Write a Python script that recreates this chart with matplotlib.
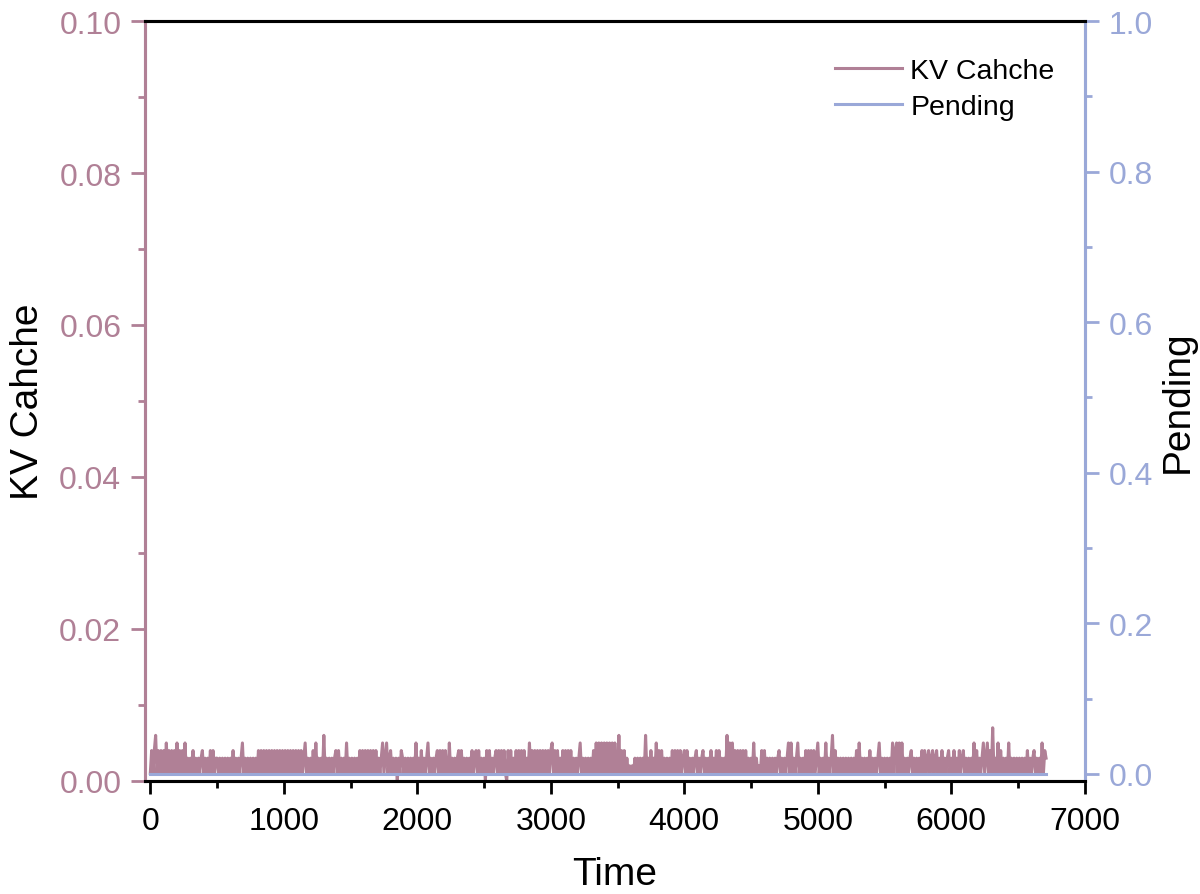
import numpy as np
import matplotlib
matplotlib.use('Agg')
import matplotlib.pyplot as plt
from matplotlib.ticker import MultipleLocator

plt.rcParams['font.family'] = ['Liberation Sans', 'DejaVu Sans']

# KV cache usage, one sample every 10 time units, in units of 0.001
kv_digits = (
    "14146141414151414141514141513131413131341313141413"
    "31313131313" "14" "131313" "5" "13131313131" "4141414141414141414"
    "141414141" "414141" "35" "1313141" "5" "13131" "6" "13131313" "414" "13131" "5" "13"
    "1313131" "4141414141414" "1313" "5" "13" "5" "13" "4" "1313" "0" "31" "4" "3131313131" "5"
    "13141313" "5" "131313" "41414141" "15" "131313" "4141" "313131" "4" "13" "414" "131"
    "30" "414" "1313" "41414141" "0" "4141" "3" "141414141" "31" "51" "41414141414" "141"
    "45" "1414131" "41414141" "31313" "5" "131313131" "41" "5151515151515151"
    "16" "1414" "13" "1212" "131313131" "6" "131" "4" "131" "5" "1414" "1313131" "4141414" "13"
    "414" "131313" "4" "1313" "4" "13131" "4" "13141" "4" "13131" "61" "515" "14141414" "14" "131"
    "315" "13121" "4141" "313131313" "4" "131313" "515" "1313" "5" "13131" "4141414" "13"
    "5" "13131" "5" "1313" "6" "141" "31313131313131" "415" "1313131" "4" "131313" "5" "131"
    "313131" "5" "14" "51515" "131313" "4" "1313131" "41" "4" "13" "4" "13" "4" "13" "4" "13141" "313" "41"
    "31" "4" "131" "4" "13" "4" "1313131" "5" "14" "1313" "5" "13" "5" "141" "7" "131" "5" "14" "13131" "5" "131313"
    "1313131" "4" "1313" "4" "13131" "5" "143"
)
kv_cache = [int(c) / 1000 for c in kv_digits]
time = [10 * i for i in range(len(kv_cache))]
pending = [0 for _ in kv_cache]

KV_COLOR = '#B08096'
PEND_COLOR = '#9AA8D8'

fig = plt.figure(figsize=(12, 8.95), dpi=100)
ax = fig.add_axes([0.1208, 0.1263, 0.7832, 0.8491])
ax2 = ax.twinx()

l1, = ax.plot(time, kv_cache, color=KV_COLOR, lw=2.2, label='KV Cahche')
l2, = ax2.plot(time, pending, color=PEND_COLOR, lw=2.2, label='Pending')

ax.set_xlim(-40, 7000)
ax.set_ylim(0, 0.10)
ax2.set_ylim(-0.0093, 1.0)

ax.xaxis.set_major_locator(MultipleLocator(1000))
ax.xaxis.set_minor_locator(MultipleLocator(500))
ax.yaxis.set_major_locator(MultipleLocator(0.02))
ax.yaxis.set_minor_locator(MultipleLocator(0.01))
ax2.yaxis.set_major_locator(MultipleLocator(0.2))
ax2.yaxis.set_minor_locator(MultipleLocator(0.1))
ax.yaxis.set_major_formatter(plt.FormatStrFormatter('%.2f'))
ax2.yaxis.set_major_formatter(plt.FormatStrFormatter('%.1f'))

ax.tick_params(axis='x', which='major', direction='out', length=9, width=2,
               labelsize=23, colors='black', pad=9, top=False)
ax.tick_params(axis='x', which='minor', direction='out', length=5, width=2, top=False)
ax.tick_params(axis='y', which='major', direction='out', length=10, width=2,
               labelsize=23, colors=KV_COLOR, pad=7)
ax.tick_params(axis='y', which='minor', direction='out', length=5, width=2, colors=KV_COLOR)
ax2.tick_params(axis='y', which='major', direction='out', length=10, width=2,
                labelsize=23, colors=PEND_COLOR, pad=7)
ax2.tick_params(axis='y', which='minor', direction='out', length=5, width=2, colors=PEND_COLOR)

for a in (ax, ax2):
    a.spines['left'].set_color(KV_COLOR)
    a.spines['right'].set_color(PEND_COLOR)
    a.spines['top'].set_color('black')
    a.spines['bottom'].set_color('black')
    for s in a.spines.values():
        s.set_linewidth(2.2)

ax.set_xlabel('Time', fontsize=28)
ax.set_ylabel('KV Cahche', fontsize=28)
ax2.set_ylabel('Pending', fontsize=28)
ax.xaxis.set_label_coords(0.5, -0.122)
ax.xaxis.label.set_va('center')
ax.yaxis.set_label_coords(-0.1245, 0.5)
ax.yaxis.label.set_va('center')
ax2.yaxis.set_label_coords(1.099, 0.5)
ax2.yaxis.label.set_va('center')

lgd = ax.legend([l1, l2], ['KV Cahche', 'Pending'], loc='upper right',
                bbox_to_anchor=(0.995, 0.985), frameon=False, fontsize=20.5,
                handlelength=2.35, labelspacing=0.35, handletextpad=0.3)

plt.savefig('out.png', dpi=100)
